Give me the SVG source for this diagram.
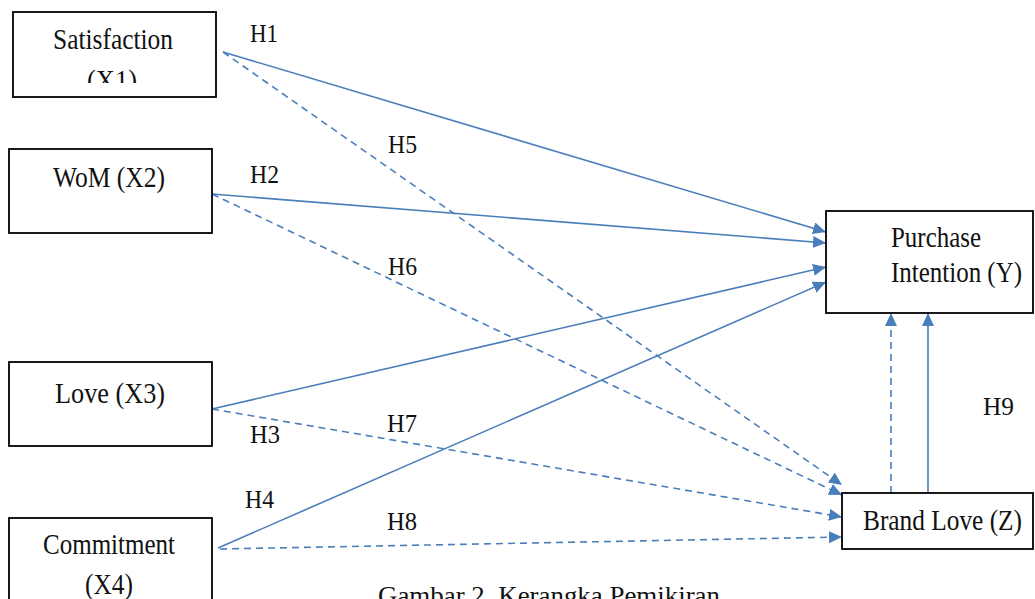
<svg xmlns="http://www.w3.org/2000/svg" width="1035" height="599" viewBox="0 0 1035 599">
<style>
.box{fill:#fff;stroke:#000;stroke-width:1.8}
.lbl{font-family:"Liberation Serif","Times New Roman",serif;font-size:30px;fill:#111}
.h{font-family:"Liberation Serif","Times New Roman",serif;font-size:26px;fill:#111}
.s{stroke:#4a7ebb;stroke-width:1.6;fill:none;marker-end:url(#ah)}
.d{stroke:#4a7ebb;stroke-width:1.6;fill:none;stroke-dasharray:7 5;marker-end:url(#ah)}
</style>
<defs>
<marker id="ah" markerUnits="userSpaceOnUse" markerWidth="14" markerHeight="12" refX="13" refY="6" orient="auto">
<path d="M0,0 L13,6 L0,12 z" fill="#4a7ebb"/>
</marker>
<clipPath id="c1"><rect x="13" y="12" width="203" height="71"/></clipPath>
</defs>
<rect width="1035" height="599" fill="#fff"/>
<g id="connectors">
<line class="s" x1="223" y1="52" x2="826" y2="232"/>
<line class="s" x1="212" y1="194" x2="826" y2="243"/>
<line class="s" x1="212" y1="409" x2="826" y2="267"/>
<line class="s" x1="218" y1="548" x2="826" y2="282"/>
<line class="d" x1="223" y1="52" x2="842" y2="485"/>
<line class="d" x1="212" y1="194" x2="842" y2="495"/>
<line class="d" x1="212" y1="409" x2="842" y2="517"/>
<line class="d" x1="220" y1="549" x2="842" y2="537"/>
<line class="d" x1="891" y1="493" x2="891" y2="313"/>
<line class="s" x1="928" y1="493" x2="928" y2="313"/>
</g>
<g id="satisfaction">
<rect class="box" x="13" y="12" width="203" height="85"/>
<text class="lbl" x="53" y="49" textLength="120" lengthAdjust="spacingAndGlyphs">Satisfaction</text>
<text class="lbl" x="87" y="90" textLength="50" lengthAdjust="spacingAndGlyphs" clip-path="url(#c1)">(X1)</text>
</g>
<g id="wom">
<rect class="box" x="9" y="149" width="203" height="84"/>
<text class="lbl" x="53" y="187" textLength="112" lengthAdjust="spacingAndGlyphs">WoM (X2)</text>
</g>
<g id="love">
<rect class="box" x="9" y="362" width="203" height="84"/>
<text class="lbl" x="55" y="403" textLength="110" lengthAdjust="spacingAndGlyphs">Love (X3)</text>
</g>
<g id="commitment">
<rect class="box" x="9" y="518" width="203" height="100"/>
<text class="lbl" x="43" y="554" textLength="132" lengthAdjust="spacingAndGlyphs">Commitment</text>
<text class="lbl" x="85" y="594" textLength="48" lengthAdjust="spacingAndGlyphs">(X4)</text>
</g>
<g id="purchase">
<rect class="box" x="826" y="211" width="207" height="102"/>
<text class="lbl" x="891" y="247" textLength="90" lengthAdjust="spacingAndGlyphs">Purchase</text>
<text class="lbl" x="891" y="282" textLength="131" lengthAdjust="spacingAndGlyphs">Intention (Y)</text>
</g>
<g id="brandlove">
<rect class="box" x="842" y="493" width="191" height="56"/>
<text class="lbl" x="863" y="530" textLength="159" lengthAdjust="spacingAndGlyphs">Brand Love (Z)</text>
</g>
<g id="labels">
<text class="h" x="250" y="42" textLength="28" lengthAdjust="spacingAndGlyphs">H1</text>
<text class="h" x="250" y="183" textLength="29" lengthAdjust="spacingAndGlyphs">H2</text>
<text class="h" x="250" y="443" textLength="30" lengthAdjust="spacingAndGlyphs">H3</text>
<text class="h" x="245" y="508" textLength="29" lengthAdjust="spacingAndGlyphs">H4</text>
<text class="h" x="388" y="153" textLength="29" lengthAdjust="spacingAndGlyphs">H5</text>
<text class="h" x="388" y="275" textLength="29" lengthAdjust="spacingAndGlyphs">H6</text>
<text class="h" x="387" y="432" textLength="30" lengthAdjust="spacingAndGlyphs">H7</text>
<text class="h" x="387" y="530" textLength="30" lengthAdjust="spacingAndGlyphs">H8</text>
<text class="h" x="983" y="415" textLength="31" lengthAdjust="spacingAndGlyphs">H9</text>
</g>
<text class="h" x="378" y="604" textLength="342" lengthAdjust="spacingAndGlyphs">Gambar 2. Kerangka Pemikiran</text>
</svg>
